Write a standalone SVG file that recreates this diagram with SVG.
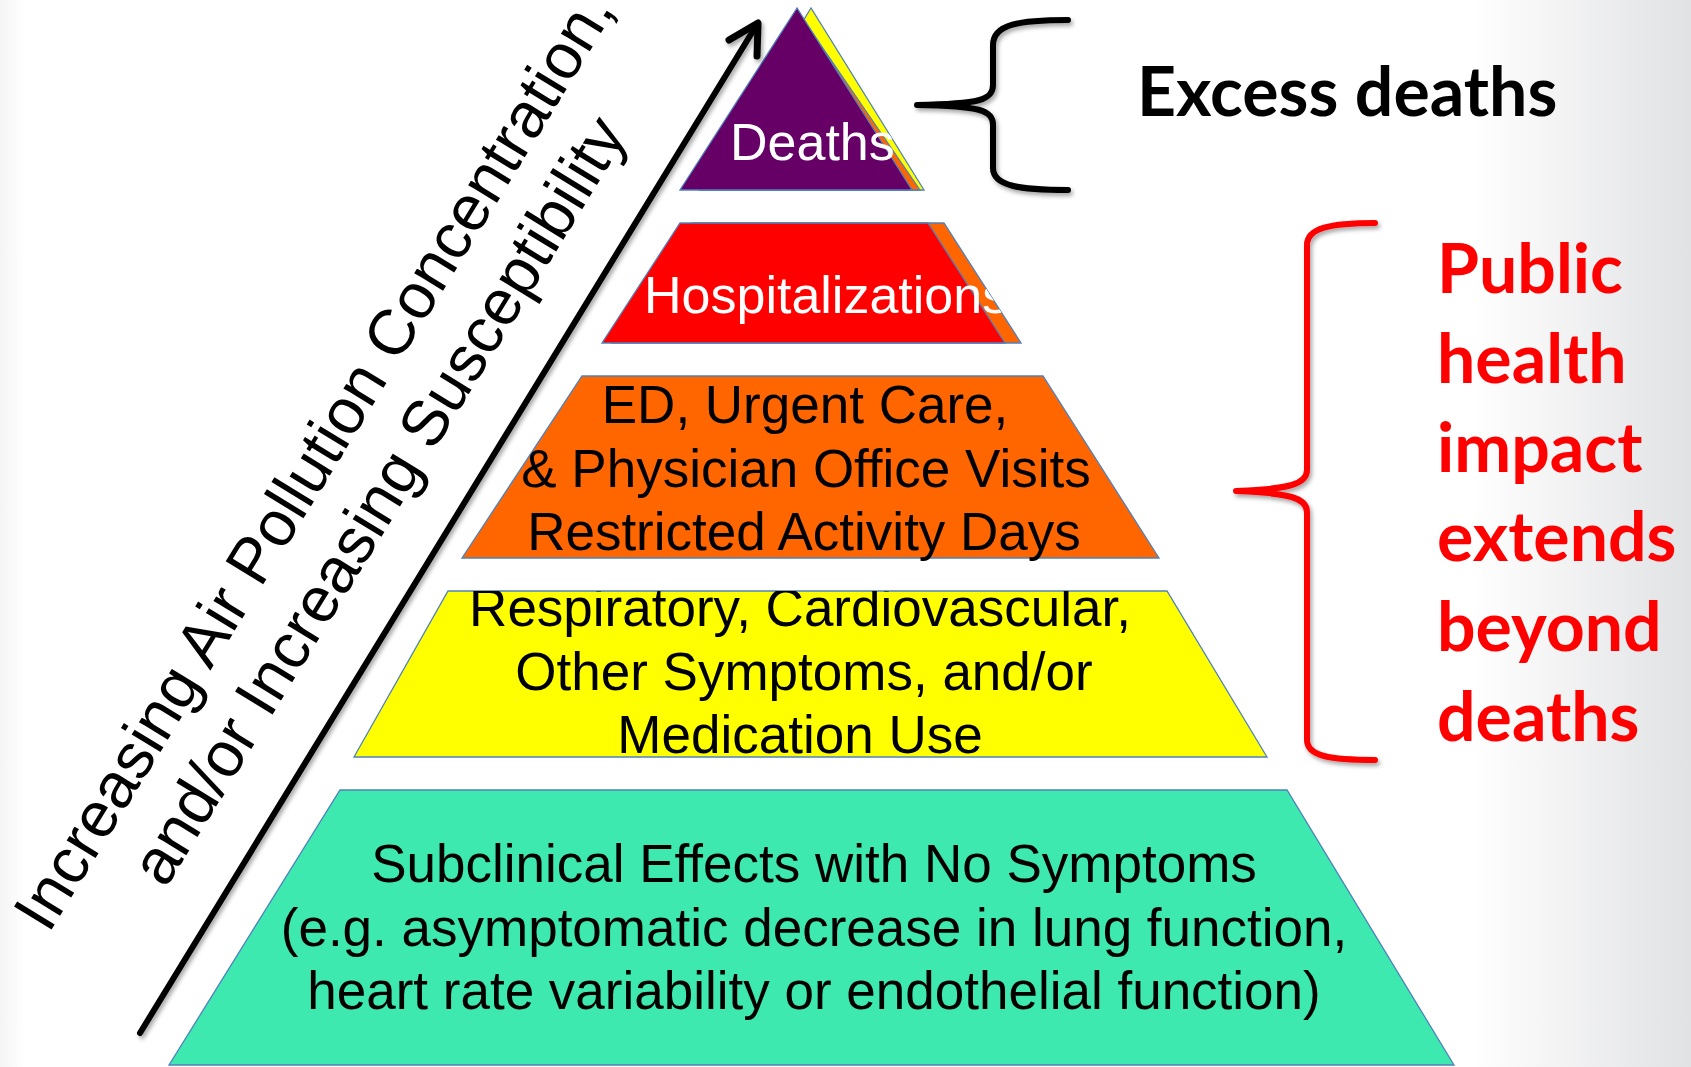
<svg xmlns="http://www.w3.org/2000/svg" width="1691" height="1067" viewBox="0 0 1691 1067">
<defs>
<style>
.lvl{stroke:#4F81BD;stroke-width:1.3;}
.t{font-family:"Liberation Sans",Arial,sans-serif;font-size:53px;fill:#000;text-anchor:middle;}
.tw{font-family:"Liberation Sans",Arial,sans-serif;font-size:52px;fill:#fff;}
.rot{font-family:"Liberation Sans",Arial,sans-serif;font-size:64px;fill:#000;text-anchor:middle;}
.red{font-family:Lato,"Open Sans",sans-serif;font-weight:bold;font-size:68px;fill:#FF0000;}
.brace{fill:none;stroke-width:6;stroke-linecap:round;stroke-linejoin:round;}
</style>
<linearGradient id="bg" x1="0" y1="0" x2="1" y2="0">
<stop offset="0" stop-color="#f5f5f5"/>
<stop offset="0.015" stop-color="#ffffff"/>
<stop offset="0.87" stop-color="#ffffff"/>
<stop offset="1" stop-color="#e1e2e4"/>
</linearGradient>
<filter id="sh" x="-10%" y="-10%" width="130%" height="130%">
<feDropShadow dx="2" dy="3" stdDeviation="2" flood-color="#000" flood-opacity="0.35"/>
</filter>
<clipPath id="cDeaths"><polygon points="811,8 680,190 924,190"/></clipPath>
<clipPath id="cHosp"><polygon points="680,223 944,223 1021,343 602,343"/></clipPath>
<clipPath id="cResp"><polygon points="448,591 1167,591 1267,757 354,757"/></clipPath>
</defs>
<rect x="0" y="0" width="1691" height="1067" fill="url(#bg)"/>

<g id="deaths">
<polygon class="lvl" points="811,8 700,190 924,190" fill="#FFFF00"/>
<polygon class="lvl" points="809,28 700,190 920,190" fill="#FF6600"/>
<polygon class="lvl" points="797,8 680,190 912,190" fill="#660066"/>
<text class="tw" x="730" y="160" clip-path="url(#cDeaths)">Deaths</text>
</g>

<g id="hospitalizations">
<polygon class="lvl" points="692,223 944,223 1021,343 612,343" fill="#FF6600"/>
<polygon class="lvl" points="680,223 928,223 1005,343 602,343" fill="#FF0000"/>
<text class="tw" x="644" y="313" clip-path="url(#cHosp)">Hospitalizations</text>
</g>

<g id="ed-visits">
<polygon class="lvl" points="582,376 1043,376 1159,558 462,558" fill="#FF6600"/>
<text class="t" x="805" y="423">ED, Urgent Care,</text>
<text class="t" x="806" y="487">&amp; Physician Office Visits</text>
<text class="t" x="804" y="550">Restricted Activity Days</text>
</g>

<g id="symptoms">
<polygon class="lvl" points="448,591 1167,591 1267,757 354,757" fill="#FFFF00"/>
<g clip-path="url(#cResp)">
<text class="t" x="800" y="626">Respiratory, Cardiovascular,</text>
<text class="t" x="804" y="690">Other Symptoms, and/or</text>
<text class="t" x="800" y="753">Medication Use</text>
</g>
</g>

<g id="subclinical">
<polygon class="lvl" points="340,790 1287,790 1454,1065 169,1065" fill="#3DE9AF"/>
<text class="t" x="814" y="882">Subclinical Effects with No Symptoms</text>
<text class="t" x="814" y="946">(e.g. asymptomatic decrease in lung function,</text>
<text class="t" x="814" y="1009">heart rate variability or endothelial function)</text>
</g>

<g id="axis-label" transform="translate(332,472) rotate(-58.5)">
<text class="rot" x="0" y="0">Increasing Air Pollution Concentration,</text>
<text class="rot" x="0" y="76">and/or Increasing Susceptibility</text>
</g>

<g id="excess-deaths">
<text x="1137" y="116" style="font-family:Lato,'Open Sans',sans-serif;font-weight:bold;font-size:68px;fill:#000;">Excess deaths</text>
</g>

<g id="public-health">
<text class="red" x="1437" y="293">Public</text>
<text class="red" x="1437" y="383">health</text>
<text class="red" x="1437" y="472">impact</text>
<text class="red" x="1437" y="561">extends</text>
<text class="red" x="1437" y="651">beyond</text>
<text class="red" x="1437" y="741">deaths</text>
</g>

<g id="connectors">
<g filter="url(#sh)">
<line x1="140" y1="1033" x2="756" y2="26" stroke="#000" stroke-width="6" stroke-linecap="round"/>
<polyline points="729,40 758,23 757,56" fill="none" stroke="#000" stroke-width="7" stroke-linecap="round" stroke-linejoin="round"/>
<path class="brace" stroke="#000" d="M1068,20 C1020,20 993,24 993,45 L993,85 C993,100 980,104 917,105 C980,106 993,110 993,125 L993,168 C993,186 1020,190 1068,190"/>
<path class="brace" stroke="#FF0000" d="M1375,223 C1330,223 1307,228 1307,245 L1307,470 C1307,484 1290,489 1236,491 C1290,493 1307,498 1307,512 L1307,740 C1307,756 1330,760 1375,760"/>
</g>
</g>
</svg>
